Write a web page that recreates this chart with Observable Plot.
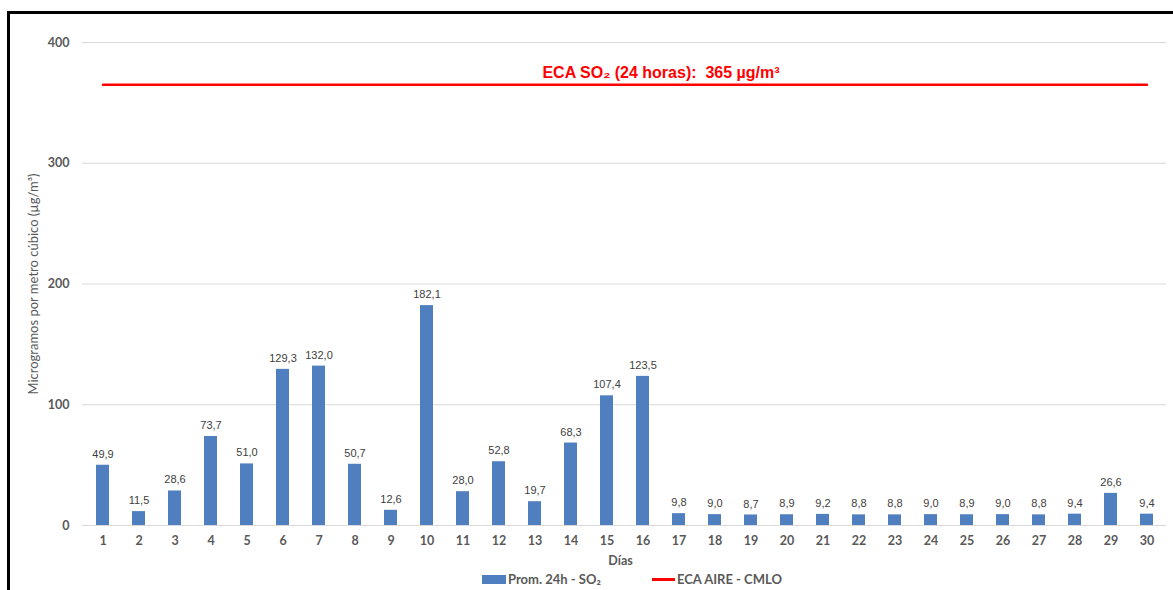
<!DOCTYPE html>
<html>
<head>
<meta charset="utf-8">
<script src="https://cdn.jsdelivr.net/npm/d3@7"></script>
<script src="https://cdn.jsdelivr.net/npm/@observablehq/plot@0.6"></script>
<style>
  body { margin: 0; background: #fff; }
  #wrap { position: relative; width: 1173px; height: 590px; overflow: hidden; background: #fff; }
  #frame { position: absolute; left: 7px; top: 11px; right: -10px; bottom: -10px;
           border-left: 3px solid #000; border-top: 3px solid #000; box-shadow: 0 1px 0 #bbb; pointer-events: none; }
  #chart svg { display: block; }
  #legend { position: relative; height: 22px; font: bold 13px Lato, sans-serif; color: #595959; }
  .item { position: absolute; top: 0; height: 22px; display: flex; align-items: center; white-space: nowrap; }
  .sw-bar { width: 24px; height: 9px; background: #4f7fbe; margin-right: 2px; }
  .sw-line { width: 23px; height: 3px; background: #ff0000; margin-right: 2px; }
</style>
</head>
<body>
<div id="wrap">
  <div id="chart"></div>
  <div id="legend">
    <div class="item" style="left:482px"><span class="sw-bar"></span>Prom. 24h - SO₂</div>
    <div class="item" style="left:652px"><span class="sw-line"></span>ECA AIRE - CMLO</div>
  </div>
  <div id="frame"></div>
</div>
<script>
// Daily SO2 24-hour averages (µg/m³) for days 1–30
const days = [1, 2, 3, 4, 5, 6, 7, 8, 9, 10, 11, 12, 13, 14, 15,
              16, 17, 18, 19, 20, 21, 22, 23, 24, 25, 26, 27, 28, 29, 30];
const so2 = [49.9, 11.5, 28.6, 73.7, 51.0, 129.3, 132.0, 50.7, 12.6, 182.1,
             28.0, 52.8, 19.7, 68.3, 107.4, 123.5, 9.8, 9.0, 8.7, 8.9,
             9.2, 8.8, 8.8, 9.0, 8.9, 9.0, 8.8, 9.4, 26.6, 9.4];
// Air quality standard (ECA) for SO2, 24 hours
const ecaLimit = 365;
const ecaLabel = "ECA SO₂ (24 horas):  365 µg/m³";
const yTicks = [0, 100, 200, 300, 400];
const yLabel = "Microgramos por metro cúbico (µg/m³)";
const xLabel = "Días";

const rows = days.map((d, i) => ({day: d, value: so2[i]}));
const ecaRows = [{day: days[0], value: ecaLimit}, {day: days[days.length - 1], value: ecaLimit}];
const fmt = v => v.toFixed(1).replace(".", ",");

const chart = Plot.plot({
  width: 1173,
  height: 568,
  marginLeft: 82,
  marginRight: 7,
  marginTop: 42,
  marginBottom: 43,
  style: {fontFamily: "Lato, sans-serif", background: "transparent", color: "#595959"},
  x: {domain: days, paddingInner: 0.65, paddingOuter: 0.325, label: null},
  y: {domain: [0, 400], label: null},
  marks: [
    Plot.gridY(yTicks, {stroke: "#d9d9d9", strokeOpacity: 1}),
    Plot.ruleY([0], {stroke: "#d9d9d9"}),
    Plot.barY(rows, {x: "day", y: "value", fill: "#4f7fbe"}),
    Plot.text(rows, {x: "day", y: "value", text: d => fmt(d.value), dy: -11,
      fontFamily: "Liberation Sans, Arial, sans-serif", fontSize: 11, fill: "#404040"}),
    Plot.lineY(ecaRows, {x: "day", y: "value", stroke: "#ff0000", strokeWidth: 2.5}),
    Plot.text([ecaLabel], {x: () => days[15], y: () => ecaLimit, dx: 18, dy: -12,
      fontFamily: "Liberation Sans, Arial, sans-serif", fontSize: 16, fontWeight: "bold", fill: "#ff0000"}),
    Plot.axisY(yTicks, {tickSize: 0, tickPadding: 13, fontSize: 12.5, fontWeight: "bold", label: null, fill: "#595959"}),
    Plot.axisX({tickSize: 0, tickPadding: 11, fontSize: 12.5, fontWeight: "bold", label: null, fill: "#595959"}),
    Plot.text([yLabel], {frameAnchor: "left", textAnchor: "middle", dx: -49, rotate: -90, fontSize: 13, fill: "#595959"}),
    Plot.text([xLabel], {frameAnchor: "bottom", dy: 39, dx: -4, fontSize: 12.5, fontWeight: "bold", fill: "#595959"})
  ]
});
document.getElementById("chart").appendChild(chart);
</script>
</body>
</html>
